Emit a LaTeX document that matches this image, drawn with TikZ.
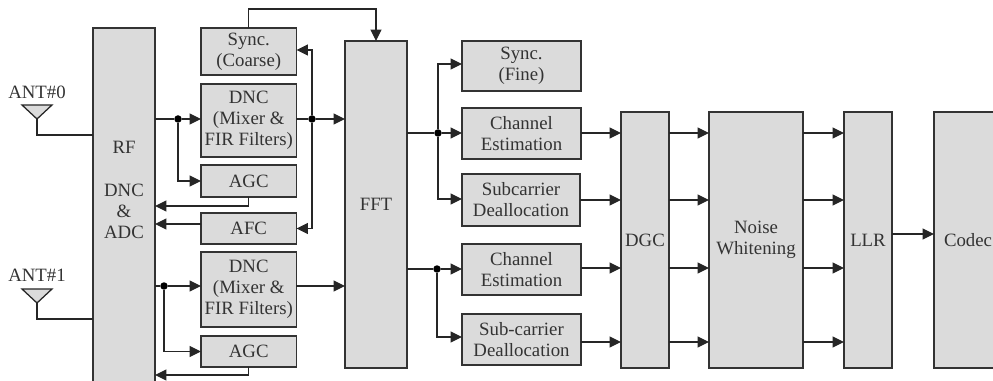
\documentclass[tikz,border=0pt]{standalone}
\usepackage{fontspec}
\setmainfont{Liberation Serif}
\usetikzlibrary{arrows.meta}
\tikzset{
	block/.style={draw=black!80, fill=black!14, line width=.27mm, inner sep=0pt, outer sep=0pt, align=center, text=black!80},
	sig/.style={draw=black!85, -{Triangle[length=.23cm,width=.22cm]}},
	wire/.style={draw=black!85},
	dot/.style={circle, fill=black, inner sep=0pt, minimum size=.15cm},
	antenna/.style={draw=black!85, fill=black!14, line join=miter},
	blocktext/.style={align=center, text=black!80, inner sep=0pt},
}
\begin{document}
\begin{tikzpicture}[x=.02cm, y=-.02cm, line width=.25mm, font=\fontsize{10.7}{12}\selectfont]
		\clip (0,0) rectangle (993,381);
		\node[block, minimum width=1.24cm, minimum height=7.34cm] (rf) at (124,211.5) {};
		\node[blocktext] (rftext) at (124,190) {RF\\ \\DNC\\\&\\ADC};
		\node[block, minimum width=1.91cm, minimum height=.94cm] (coarse) at (248.75,51.5) {Sync.\\(Coarse)};
		\node[block, minimum width=1.91cm, minimum height=1.46cm] (dnca) at (248.75,120.5) {DNC\\(Mixer \&\\FIR Filters)};
		\node[block, minimum width=1.91cm, minimum height=.64cm] (agca) at (248.75,181) {AGC};
		\node[block, minimum width=1.91cm, minimum height=.62cm] (afc) at (248.75,228.5) {AFC};
		\node[block, minimum width=1.91cm, minimum height=1.5cm] (dncb) at (248.75,289.5) {DNC\\(Mixer \&\\FIR Filters)};
		\node[block, minimum width=1.91cm, minimum height=.62cm] (agcb) at (248.75,351.5) {AGC};
		\node[block, minimum width=1.24cm, minimum height=6.54cm] (fft) at (376,204.5) {FFT};
		\node[block, minimum width=2.38cm, minimum height=1cm] (fine) at (521.5,66) {Sync.\\(Fine)};
		\node[block, minimum width=2.38cm, minimum height=1.02cm] (cea) at (521.5,133.5) {Channel\\Estimation};
		\node[block, minimum width=2.36cm, minimum height=1.04cm] (sda) at (521,200) {Subcarrier\\Deallocation};
		\node[block, minimum width=2.38cm, minimum height=1.02cm] (ceb) at (521.5,269.5) {Channel\\Estimation};
		\node[block, minimum width=2.38cm, minimum height=1.02cm] (sdb) at (521.5,339.5) {Sub-carrier\\Deallocation};
		\node[block, minimum width=.96cm, minimum height=5.12cm] (dgc) at (645,240) {DGC};
		\node[block, minimum width=1.88cm, minimum height=5.12cm] (nw) at (756,240) {Noise\\Whitening};
		\node[block, minimum width=.96cm, minimum height=5.12cm] (llr) at (868,240) {LLR};
		\node[block, minimum width=1.36cm, minimum height=5.12cm] (codec) at (968,240) {Codec};
		\node[blocktext] (anta) at (37,92) {ANT\#0};
		\node[blocktext] (antb) at (37,275) {ANT\#1};
		\coordinate (tipa) at (37,119);
		\coordinate (tipb) at (37,303);
		\draw[antenna] (22,105) -- (52,105) -- (tipa) -- cycle;
		\draw[antenna] (22,289) -- (52,289) -- (tipb) -- cycle;
		\draw[wire] (tipa) |- (rf.west |- 0,135);
		\draw[wire] (tipb) |- (rf.west |- 0,319);
		\node[dot] (jrfa) at (178,119) {};
		\node[dot] (jrfb) at (164,286) {};
		\node[dot] (jdnc) at (312,119) {};
		\node[dot] (jffta) at (438,133) {};
		\node[dot] (jfftb) at (437,269) {};
		\draw[wire] (rf.east |- jrfa) -- (jrfa);
		\draw[sig] (jrfa) -- (dnca.west |- jrfa);
		\draw[sig] (jrfa) |- (agca.west);
		\draw[wire] (dnca.east |- jdnc) -- (jdnc);
		\draw[sig] (jdnc) -- (fft.west |- jdnc);
		\draw[sig] (jdnc) |- (coarse.east |- 0,50);
		\draw[sig] (jdnc) |- (afc.east);
		\draw[sig] (agca.south) |- (rf.east |- 0,206);
		\draw[sig] (afc.west |- 0,224) -- (rf.east |- 0,224);
		\draw[wire] (rf.east |- jrfb) -- (jrfb);
		\draw[sig] (jrfb) -- (dncb.west |- jrfb);
		\draw[sig] (jrfb) |- (agcb.west);
		\draw[sig] (dncb.east |- jrfb) -- (fft.west |- jrfb);
		\draw[sig] (agcb.south) |- (rf.east |- 0,375);
		\draw[sig] (coarse.north) |- (376,9) -- (fft.north);
		\draw[wire] (fft.east |- jffta) -- (jffta);
		\draw[sig] (jffta) -- (cea.west |- jffta);
		\draw[sig] (jffta) |- (fine.west |- 0,64);
		\draw[sig] (jffta) |- (sda.west |- 0,199);
		\draw[wire] (fft.east |- jfftb) -- (jfftb);
		\draw[sig] (jfftb) -- (ceb.west |- jfftb);
		\draw[sig] (jfftb) |- (sdb.west |- 0,337);
		\draw[sig] (cea.east |- 0,133) -- (dgc.west |- 0,133);
		\draw[sig] (sda.east |- 0,200) -- (dgc.west |- 0,200);
		\draw[sig] (ceb.east |- 0,268) -- (dgc.west |- 0,268);
		\draw[sig] (sdb.east |- 0,342) -- (dgc.west |- 0,342);
		\draw[sig] (dgc.east |- 0,133) -- (nw.west |- 0,133);
		\draw[sig] (dgc.east |- 0,200) -- (nw.west |- 0,200);
		\draw[sig] (dgc.east |- 0,268) -- (nw.west |- 0,268);
		\draw[sig] (dgc.east |- 0,342) -- (nw.west |- 0,342);
		\draw[sig] (nw.east |- 0,133) -- (llr.west |- 0,133);
		\draw[sig] (nw.east |- 0,200) -- (llr.west |- 0,200);
		\draw[sig] (nw.east |- 0,268) -- (llr.west |- 0,268);
		\draw[sig] (nw.east |- 0,342) -- (llr.west |- 0,342);
		\draw[sig] (llr.east |- 0,234) -- (codec.west |- 0,234);
\end{tikzpicture}
\end{document}
